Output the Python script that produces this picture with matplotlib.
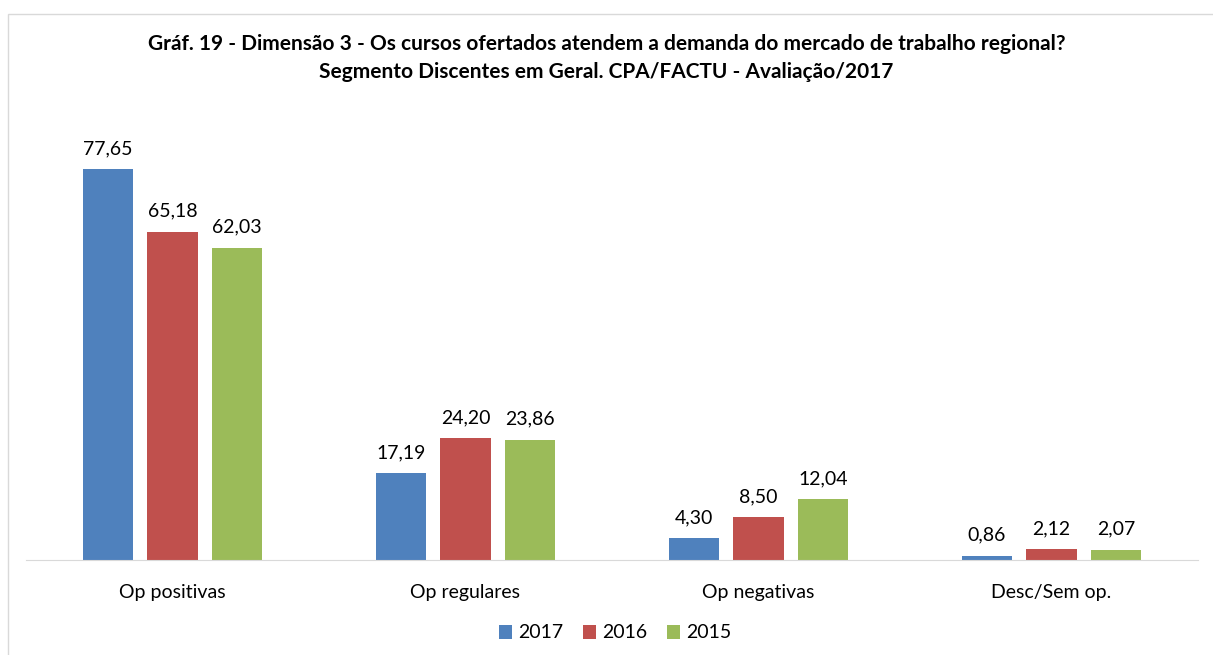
import numpy as np
import matplotlib
matplotlib.use("Agg")
from matplotlib import pyplot as plt
from matplotlib.patches import Rectangle

plt.rcParams['font.family'] = ['Lato', 'DejaVu Sans']

categories = ["Op positivas", "Op regulares", "Op negativas", "Desc/Sem op."]
years = ["2017", "2016", "2015"]
v2017 = [77.65, 17.19, 4.30, 0.86]
v2016 = [65.18, 24.20, 8.50, 2.12]
v2015 = [62.03, 23.86, 12.04, 2.07]
colors = ["#4F81BD", "#C0504D", "#9BBB59"]

fig = plt.figure(figsize=(12.13, 6.55), dpi=100)
ax = fig.add_axes([26/1213, 1-560/655, 1172/1213, (560-107)/655])

x = np.arange(len(categories))
w = 0.171
step = 0.22
for i, (vals, yr) in enumerate(zip([v2017, v2016, v2015], years)):
    bars = ax.bar(x + (i-1)*step, vals, w, color=colors[i], label=yr)
    for b, v in zip(bars, vals):
        ax.text(b.get_x() + b.get_width()/2, v + 2.4, f"{v:.2f}".replace(".", ","),
                ha="center", va="bottom", fontsize=14)

ax.set_xlim(-0.5, 3.5)
ax.set_ylim(0, 90)
ax.set_yticks([])
ax.set_xticks(x)
ax.set_xticklabels(categories, fontsize=14)
ax.tick_params(axis="x", length=0, pad=17)
for s in ["top", "right", "left"]:
    ax.spines[s].set_visible(False)
ax.spines["bottom"].set_color("#D9D9D9")

fig.text(0.5, 1-44/655, "Gráf. 19 - Dimensão 3 - Os cursos ofertados atendem a demanda do mercado de trabalho regional?",
         ha="center", va="center", fontsize=15, fontweight="bold")
fig.text(0.5, 1-72/655, "Segmento Discentes em Geral. CPA/FACTU - Avaliação/2017",
         ha="center", va="center", fontsize=15, fontweight="bold")

fig.legend(loc="center", bbox_to_anchor=(615/1213, 1-633/655), ncol=3, frameon=False,
           fontsize=14, handlelength=0.7, handleheight=0.7, handletextpad=0.3, columnspacing=1.0)

fig.patches.append(Rectangle((8/1213, -0.1), 1.2, 1-14/655+0.1, transform=fig.transFigure,
                             fill=False, edgecolor="#D9D9D9", linewidth=1))

fig.savefig("out.png", dpi=100)
